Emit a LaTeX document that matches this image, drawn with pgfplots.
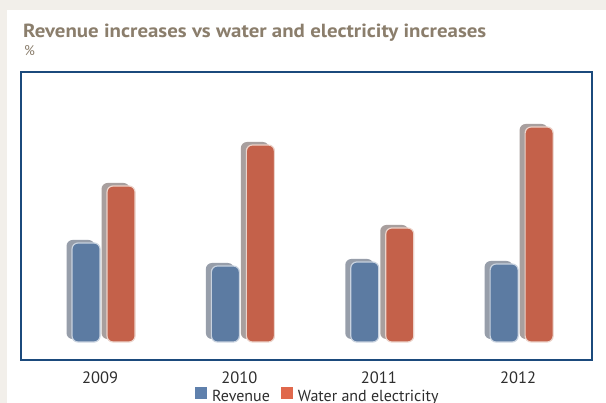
\documentclass[border=0pt]{standalone}
\usepackage{fontspec}
\setmainfont{PT Sans}
\usepackage{pgfplots}
\usepackage{pgfplotstable}
\pgfplotsset{compat=1.18}

\definecolor{pagebg}{HTML}{F2EFEA}
\definecolor{framec}{HTML}{1B4A7C}
\definecolor{titlec}{HTML}{8B7E6C}
\definecolor{tickc}{HTML}{2E2E2E}
\definecolor{revface}{HTML}{5C7BA2}
\definecolor{revedge}{HTML}{C8D2DF}
\definecolor{revside}{HTML}{979EAA}
\definecolor{watface}{HTML}{C4614A}
\definecolor{watedge}{HTML}{ECD3CA}
\definecolor{watside}{HTML}{A89F9E}
\definecolor{revkey}{HTML}{5F80AC}
\definecolor{watkey}{HTML}{E0684C}

% Annual increases, %
\pgfplotstableread{
idx year rev wat
0 2009 4.95 7.80
1 2010 3.80 9.85
2 2011 4.00 5.70
3 2012 3.90 10.75
}\increases

\begin{document}
\begin{tikzpicture}
\path[use as bounding box] (0pt,0pt) rectangle (606pt,403pt);
\fill[pagebg] (0pt,0pt) rectangle (606pt,403pt);
\fill[white] (7pt,0pt) rectangle (606pt,393pt);

\node[anchor=base west, inner sep=0pt, text=titlec, xscale=1.1,
      font=\bfseries\fontsize{19}{21}\selectfont]
  at (23pt,365.5pt) {Revenue increases vs water and electricity increases};
\node[anchor=base west, inner sep=0pt, text=titlec,
      font=\fontsize{14}{16}\selectfont]
  at (24pt,347pt) {\%};

\begin{axis}[
  at={(21pt,43pt)}, anchor=south west,
  width=571pt, height=288pt, scale only axis,
  xmin=-0.567, xmax=3.53, ymin=-0.9, ymax=13.5,
  axis line style={draw=none},
  ytick=\empty,
  xtick={0,1,2,3}, xticklabels={2009,2010,2011,2012},
  major tick length=0pt,
  xticklabel style={anchor=base, yshift=-23.3pt, text=tickc,
                    font=\fontsize{16.5}{18}\selectfont},
  ybar, bar width=28pt,
  clip=false,
  legend columns=2,
  legend style={at={(axis description cs:0.52,-0.125)}, anchor=center,
                draw=none, fill=none, font=\fontsize{16}{18}\selectfont,
                text=tickc, inner sep=0pt,
                /tikz/every even column/.append style={column sep=9pt}},
]
% side faces of the columns
\addplot[forget plot, fill=revside, draw=none, rounded corners=6pt,
         bar shift=-19.5pt, yshift=3pt] table[x=idx, y=rev] {\increases};
\addplot[forget plot, fill=watside, draw=none, rounded corners=6pt,
         bar shift=15.5pt, yshift=3pt] table[x=idx, y=wat] {\increases};
% front faces
\addplot[forget plot, fill=revface, draw=revedge, line width=1.2pt,
         rounded corners=6pt, bar shift=-14pt] table[x=idx, y=rev] {\increases};
\addplot[forget plot, fill=watface, draw=watedge, line width=1.2pt,
         rounded corners=6pt, bar shift=21pt] table[x=idx, y=wat] {\increases};

\addlegendimage{legend image code/.code={\fill[revkey, draw=none] (0pt,-3pt) rectangle (12pt,9pt); \path[draw=none, fill=none] (0pt,0pt) -- (15pt,0pt);}}
\addlegendentry{Revenue}
\addlegendimage{legend image code/.code={\fill[watkey, draw=none] (0pt,-3pt) rectangle (12pt,9pt); \path[draw=none, fill=none] (0pt,0pt) -- (15pt,0pt);}}
\addlegendentry{Water and electricity}
\end{axis}

\draw[framec, line width=2.6pt] (21pt,43pt) rectangle (592pt,331pt);
\end{tikzpicture}
\end{document}
